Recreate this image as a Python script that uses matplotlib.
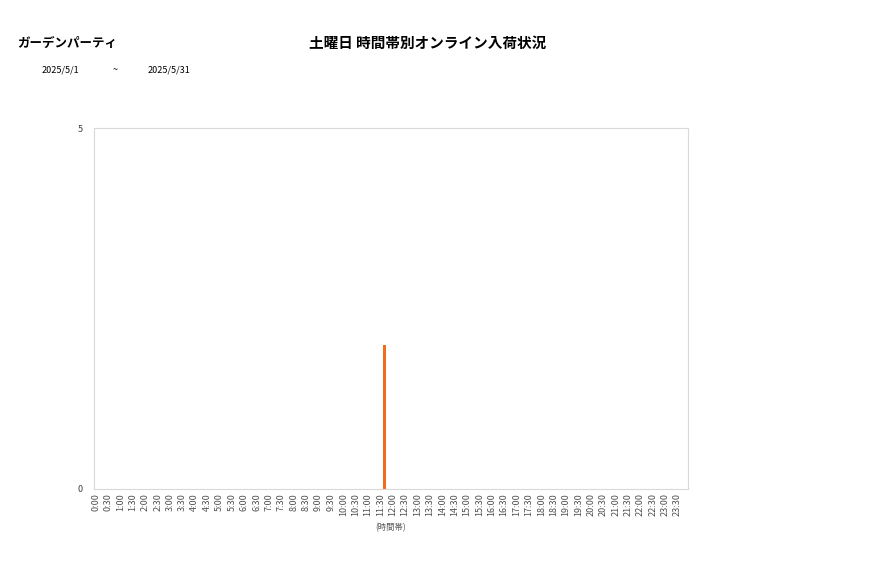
import matplotlib
matplotlib.use('Agg')
import matplotlib.pyplot as plt

plt.rcParams['font.family'] = ['Noto Sans CJK JP', 'DejaVu Sans']

# time slots and counts
slots = [f'{h}:{m:02d}' for h in range(24) for m in (0, 30)]
counts = [0] * 48
counts[slots.index('11:30')] = 2

fig = plt.figure(figsize=(8.77, 5.78), dpi=100)
ax = fig.add_axes([94 / 877, 89 / 578, 594 / 877, 361 / 578])

xs = [i + 0.5 for i in range(len(slots))]
ax.bar(xs, counts, width=0.25, color='#f26b1d')

ax.set_xlim(0, 48)
ax.set_ylim(0, 5)
ax.set_yticks([0, 5])
ax.set_xticks([i + 0.15 for i in range(len(slots))])
ax.set_xticklabels(slots, rotation=90, fontsize=6.5, color='#505050')
ax.tick_params(axis='y', labelsize=6.5, colors='#404040', pad=8)
ax.tick_params(axis='x', pad=3)
ax.tick_params(length=0)
for s in ax.spines.values():
    s.set_color('#d9d9d9')

fig.text(428 / 877, 1 - 43 / 578, '土曜日 時間帯別オンライン入荷状況', ha='center', va='center',
         fontsize=10.5, fontweight='bold')
fig.text(17 / 877, 1 - 43 / 578, 'ガーデンパーティ', ha='left', va='center',
         fontsize=9, fontweight='bold')
fig.text(42 / 877, 1 - 70 / 578, '2025/5/1', ha='left', va='center', fontsize=6.5)
fig.text(115 / 877, 1 - 70 / 578, '~', ha='center', va='center', fontsize=6.5)
fig.text(148 / 877, 1 - 70 / 578, '2025/5/31', ha='left', va='center', fontsize=6.5)
fig.text(391 / 877, 1 - 528 / 578, '(時間帯)', ha='center', va='center', fontsize=6, color='#595959')

fig.savefig('out.png')
